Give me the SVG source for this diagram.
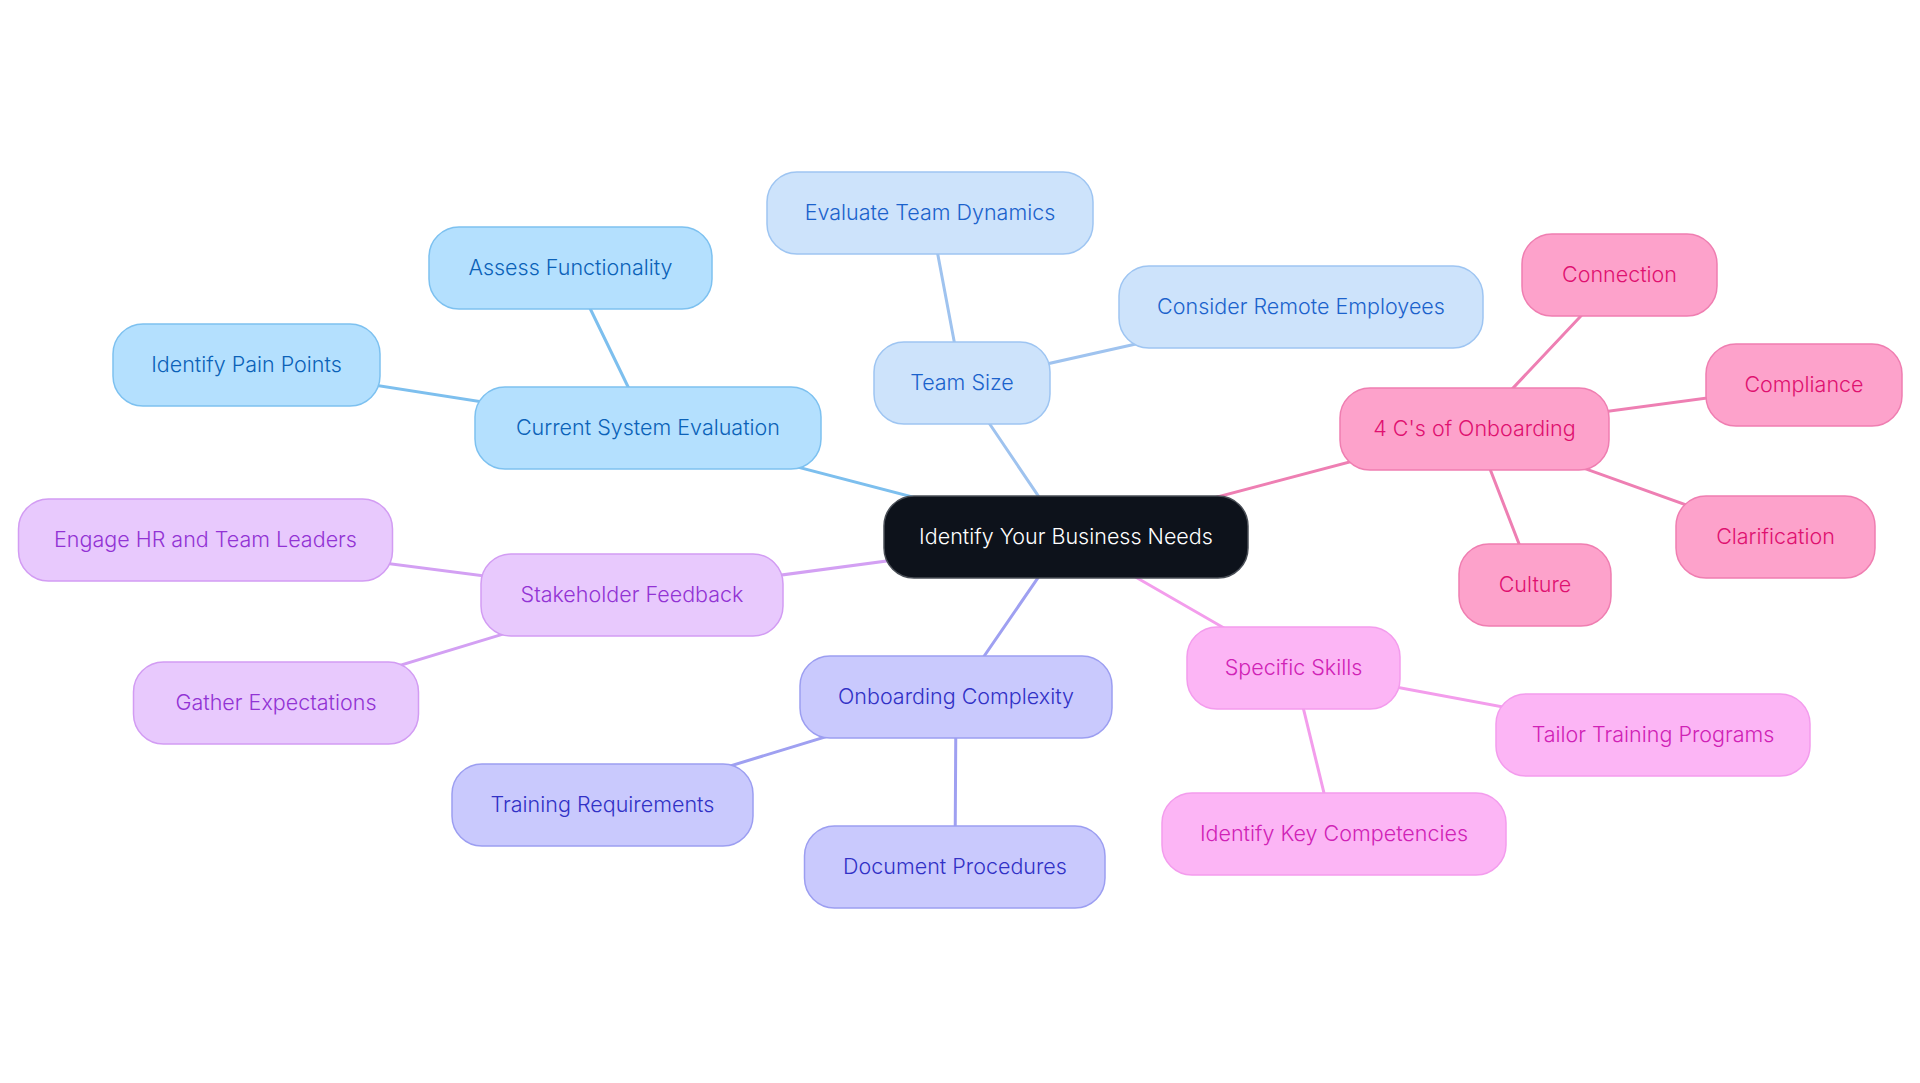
<svg xmlns="http://www.w3.org/2000/svg" width="1920" height="1083" viewBox="0 0 1920 1083">
<style>
text{font-family:Inter,"Noto Sans","Liberation Sans",sans-serif;font-size:21.5px;font-weight:300;text-anchor:middle}
.n rect{stroke-width:1.5}
.root rect{fill:#0d121b;stroke:#4a4f57}
.root text{fill:#ffffff}
.b1 rect{fill:#b4e0fe;stroke:#7dc1f0}.b1 text{fill:#0b62b8}
.b2 rect{fill:#cde3fb;stroke:#9ec5f2}.b2 text{fill:#1b62cc}
.b3 rect{fill:#fda2cb;stroke:#ef7eb1}.b3 text{fill:#df1170}
.b4 rect{fill:#e8c9fd;stroke:#d29cf3}.b4 text{fill:#9233d4}
.b5 rect{fill:#c9c9fd;stroke:#9c9ef1}.b5 text{fill:#3131c6}
.b6 rect{fill:#fcb5f5;stroke:#f39ced}.b6 text{fill:#d022b6}
.c line{stroke-width:3;stroke-linecap:round}
.l1{stroke:#7dbfee}.l2{stroke:#9fc3ef}.l3{stroke:#ee7fb3}.l4{stroke:#d3a0f3}.l5{stroke:#9fa0f1}.l6{stroke:#f39dec}
</style>
<rect width="1920" height="1083" fill="#ffffff"/>
<g id="connectors" class="c">
<line class="l1" x1="1066" y1="537" x2="648" y2="428"/>
<line class="l1" x1="648" y1="428" x2="570.5" y2="268"/>
<line class="l1" x1="648" y1="428" x2="246.5" y2="365"/>
<line class="l2" x1="1066" y1="537" x2="962" y2="383"/>
<line class="l2" x1="962" y1="383" x2="930" y2="213"/>
<line class="l2" x1="962" y1="383" x2="1301" y2="307"/>
<line class="l3" x1="1066" y1="537" x2="1474.5" y2="429"/>
<line class="l3" x1="1474.5" y1="429" x2="1619.5" y2="275"/>
<line class="l3" x1="1474.5" y1="429" x2="1804" y2="385"/>
<line class="l3" x1="1474.5" y1="429" x2="1775.5" y2="537"/>
<line class="l3" x1="1474.5" y1="429" x2="1535" y2="585"/>
<line class="l4" x1="1066" y1="537" x2="632" y2="595"/>
<line class="l4" x1="632" y1="595" x2="205.5" y2="540"/>
<line class="l4" x1="632" y1="595" x2="276" y2="703"/>
<line class="l5" x1="1066" y1="537" x2="956" y2="697"/>
<line class="l5" x1="956" y1="697" x2="602.5" y2="805"/>
<line class="l5" x1="956" y1="697" x2="955" y2="867"/>
<line class="l6" x1="1066" y1="537" x2="1293.5" y2="668"/>
<line class="l6" x1="1293.5" y1="668" x2="1653" y2="735"/>
<line class="l6" x1="1293.5" y1="668" x2="1334" y2="834"/>
</g>
<g id="root" class="n root"><rect x="884" y="496" width="364" height="82" rx="30"/><text x="1066" y="544">Identify Your Business Needs</text></g>
<g id="current-system" class="n b1"><rect x="475" y="387" width="346" height="82" rx="30"/><text x="648" y="435">Current System Evaluation</text></g>
<g id="assess" class="n b1"><rect x="429" y="227" width="283" height="82" rx="30"/><text x="570.5" y="275">Assess Functionality</text></g>
<g id="pain-points" class="n b1"><rect x="113" y="324" width="267" height="82" rx="30"/><text x="246.5" y="372">Identify Pain Points</text></g>
<g id="team-size" class="n b2"><rect x="874" y="342" width="176" height="82" rx="30"/><text x="962" y="390">Team Size</text></g>
<g id="team-dynamics" class="n b2"><rect x="767" y="172" width="326" height="82" rx="30"/><text x="930" y="220">Evaluate Team Dynamics</text></g>
<g id="remote" class="n b2"><rect x="1119" y="266" width="364" height="82" rx="30"/><text x="1301" y="314">Consider Remote Employees</text></g>
<g id="four-cs" class="n b3"><rect x="1340" y="388" width="269" height="82" rx="30"/><text x="1474.5" y="436">4 C's of Onboarding</text></g>
<g id="connection" class="n b3"><rect x="1522" y="234" width="195" height="82" rx="30"/><text x="1619.5" y="282">Connection</text></g>
<g id="compliance" class="n b3"><rect x="1706" y="344" width="196" height="82" rx="30"/><text x="1804" y="392">Compliance</text></g>
<g id="clarification" class="n b3"><rect x="1676" y="496" width="199" height="82" rx="30"/><text x="1775.5" y="544">Clarification</text></g>
<g id="culture" class="n b3"><rect x="1459" y="544" width="152" height="82" rx="30"/><text x="1535" y="592">Culture</text></g>
<g id="stakeholder" class="n b4"><rect x="481" y="554" width="302" height="82" rx="30"/><text x="632" y="602">Stakeholder Feedback</text></g>
<g id="engage-hr" class="n b4"><rect x="18.5" y="499" width="374" height="82" rx="30"/><text x="205.5" y="547">Engage HR and Team Leaders</text></g>
<g id="expectations" class="n b4"><rect x="133.5" y="662" width="285" height="82" rx="30"/><text x="276" y="710">Gather Expectations</text></g>
<g id="onboarding-complexity" class="n b5"><rect x="800" y="656" width="312" height="82" rx="30"/><text x="956" y="704">Onboarding Complexity</text></g>
<g id="training-req" class="n b5"><rect x="452" y="764" width="301" height="82" rx="30"/><text x="602.5" y="812">Training Requirements</text></g>
<g id="document" class="n b5"><rect x="804.5" y="826" width="300.5" height="82" rx="30"/><text x="955" y="874">Document Procedures</text></g>
<g id="specific-skills" class="n b6"><rect x="1187" y="627" width="213" height="82" rx="30"/><text x="1293.5" y="675">Specific Skills</text></g>
<g id="tailor" class="n b6"><rect x="1496" y="694" width="314" height="82" rx="30"/><text x="1653" y="742">Tailor Training Programs</text></g>
<g id="competencies" class="n b6"><rect x="1162" y="793" width="344" height="82" rx="30"/><text x="1334" y="841">Identify Key Competencies</text></g>
</svg>
